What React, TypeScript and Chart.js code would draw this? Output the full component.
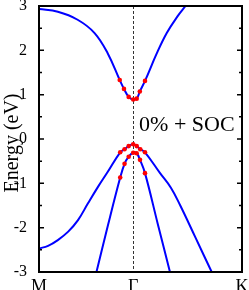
import React, { useEffect, useRef } from 'react';
import { Chart, registerables } from 'chart.js';

Chart.register(...registerables);

// k-path: M = 0, Γ = 1, K = 1 + 2/√3
const xTickLabels = ['M', 'Γ', 'K'];
const xTickValues = [0, 1, 2.1547];
const yTickValues = [-3, -2, -1, 0, 1, 2, 3];
const yMinorValues = [-2.5, -1.5, -0.5, 0.5, 1.5, 2.5];
const yTitle = 'Energy (eV)';

// conduction band
const cbK = [0, 0.2, 0.41, 0.59, 0.73, 0.857, 0.902, 0.952, 1.0, 1.037, 1.07, 1.125, 1.25, 1.356, 1.468, 1.555];
const cbE = [2.93, 2.87, 2.69, 2.39, 1.93, 1.33, 1.13, 0.95, 0.89, 0.91, 1.07, 1.31, 1.93, 2.39, 2.76, 3.0];

// top valence band
const vb1K = [0, 0.096, 0.2, 0.31, 0.414, 0.52, 0.626, 0.73, 0.862, 0.908, 0.952, 1.0, 1.037, 1.075, 1.125, 1.285, 1.4, 1.497, 1.66, 1.833];
const vb1E = [-2.47, -2.41, -2.28, -2.09, -1.83, -1.45, -1.08, -0.74, -0.3, -0.23, -0.16, -0.12, -0.16, -0.23, -0.3, -0.77, -1.1, -1.49, -2.22, -3.0];

// second valence band
const vb2K = [0.61, 0.7325, 0.862, 0.908, 0.952, 1.0, 1.037, 1.072, 1.125, 1.26, 1.39];
const vb2E = [-3.0, -1.94, -0.87, -0.56, -0.4, -0.31, -0.32, -0.47, -0.77, -1.91, -3.0];

// fitted (red) points
const dotCbK = [0.857, 0.902, 0.952, 1.0, 1.037, 1.07, 1.125];
const dotCbE = [1.33, 1.13, 0.95, 0.89, 0.91, 1.07, 1.31];
const dotVb1K = [0.862, 0.908, 0.952, 1.0, 1.037, 1.075, 1.125];
const dotVb1E = [-0.3, -0.23, -0.16, -0.12, -0.16, -0.23, -0.3];
const dotVb2K = [0.862, 0.908, 0.952, 1.0, 1.037, 1.072, 1.125];
const dotVb2E = [-0.87, -0.56, -0.4, -0.31, -0.32, -0.47, -0.77];

const annotationText = '0% + SOC';

const zip = (xs: number[], ys: number[]) => xs.map((x, i) => ({ x, y: ys[i] }));

const SERIF = "'Liberation Serif', 'Times New Roman', serif";

export default function App() {
  const ref = useRef<HTMLCanvasElement>(null);

  useEffect(() => {
    if (!ref.current) return;

    const decor = {
      id: 'decor',
      beforeDatasetsDraw(chart: any) {
        const { ctx, chartArea } = chart;
        const xs = chart.scales.x;
        const gx = Math.round(xs.getPixelForValue(xTickValues[1])) + 0.5;
        ctx.save();
        ctx.strokeStyle = '#333';
        ctx.lineWidth = 1;
        ctx.setLineDash([3, 2]);
        ctx.beginPath();
        ctx.moveTo(gx, chartArea.top);
        ctx.lineTo(gx, chartArea.bottom);
        ctx.stroke();
        ctx.restore();
      },
      afterDatasetsDraw(chart: any) {
        const { ctx, chartArea } = chart;
        const ys = chart.scales.y;
        const xs = chart.scales.x;
        ctx.save();
        ctx.strokeStyle = '#000';
        ctx.lineWidth = 2;
        ctx.strokeRect(chartArea.left, chartArea.top, chartArea.right - chartArea.left, chartArea.bottom - chartArea.top);
        ctx.lineWidth = 1.5;
        const drawTick = (v: number, len: number) => {
          const y = ys.getPixelForValue(v);
          ctx.beginPath();
          ctx.moveTo(chartArea.left, y);
          ctx.lineTo(chartArea.left + len, y);
          ctx.moveTo(chartArea.right, y);
          ctx.lineTo(chartArea.right - len, y);
          ctx.stroke();
        };
        yTickValues.forEach((v) => drawTick(v, 5));
        yMinorValues.forEach((v) => drawTick(v, 3));
        // annotation
        ctx.fillStyle = '#000';
        ctx.font = `22px ${SERIF}`;
        ctx.textAlign = 'left';
        ctx.textBaseline = 'alphabetic';
        ctx.fillText(annotationText, xs.getPixelForValue(1.062), ys.getPixelForValue(0.18));
        // y axis title
        ctx.save();
        ctx.translate(18, ys.getPixelForValue(-0.09));
        ctx.rotate(-Math.PI / 2);
        ctx.font = `20px ${SERIF}`;
        ctx.textAlign = 'center';
        ctx.textBaseline = 'alphabetic';
        ctx.fillText(yTitle, 0, 0);
        ctx.restore();
        ctx.restore();
      },
    };

    const lineDs = (k: number[], e: number[]) => ({
      type: 'line' as const,
      data: zip(k, e),
      borderColor: '#0000ff',
      borderWidth: 2,
      pointRadius: 0,
      fill: false,
      tension: 0.4,
      order: 2,
    });
    const dotDs = (k: number[], e: number[]) => ({
      type: 'scatter' as const,
      data: zip(k, e),
      backgroundColor: '#ff0000',
      borderWidth: 0,
      pointRadius: 2.3,
      showLine: false,
      order: 1,
    });

    const chart = new Chart(ref.current, {
      type: 'line',
      data: {
        datasets: [
          lineDs(cbK, cbE),
          lineDs(vb1K, vb1E),
          lineDs(vb2K, vb2E),
          dotDs(dotCbK, dotCbE),
          dotDs(dotVb1K, dotVb1E),
          dotDs(dotVb2K, dotVb2E),
        ] as any,
      },
      options: {
        animation: false,
        responsive: false,
        devicePixelRatio: 1,
        layout: { padding: { top: 6, right: 7, left: 0, bottom: 0 } },
        plugins: { legend: { display: false }, tooltip: { enabled: false } },
        scales: {
          x: {
            type: 'linear',
            min: xTickValues[0],
            max: xTickValues[2],
            grid: { display: false },
            border: { display: false },
            ticks: {
              autoSkip: false,
              maxRotation: 0,
              padding: -4,
              color: '#000',
              font: { family: SERIF, size: 18 },
              callback: (v: any) => {
                const i = xTickValues.findIndex((t) => Math.abs(t - Number(v)) < 1e-6);
                return i >= 0 ? xTickLabels[i] : '';
              },
            },
            afterBuildTicks: (s: any) => {
              s.ticks = xTickValues.map((value) => ({ value }));
            },
            afterFit: (s: any) => {
              s.height = 18;
              s.paddingLeft = 0;
              s.paddingRight = 0;
            },
          },
          y: {
            type: 'linear',
            min: -3,
            max: 3,
            grid: { display: false },
            border: { display: false },
            ticks: {
              padding: 4,
              color: '#000',
              font: { family: SERIF, size: 16 },
              callback: (v: any) => String(v),
            },
            afterBuildTicks: (s: any) => {
              s.ticks = yTickValues.map((value) => ({ value }));
            },
            afterFit: (s: any) => {
              s.width = 39;
              s.paddingTop = 0;
              s.paddingBottom = 0;
            },
          },
        },
      },
      plugins: [decor],
    });

    return () => chart.destroy();
  }, []);

  return (
    <div style={{ position: 'fixed', left: 0, top: 0, width: 249, height: 290, background: '#fff' }}>
      <canvas ref={ref} width={249} height={290} style={{ display: 'block' }} />
    </div>
  );
}
